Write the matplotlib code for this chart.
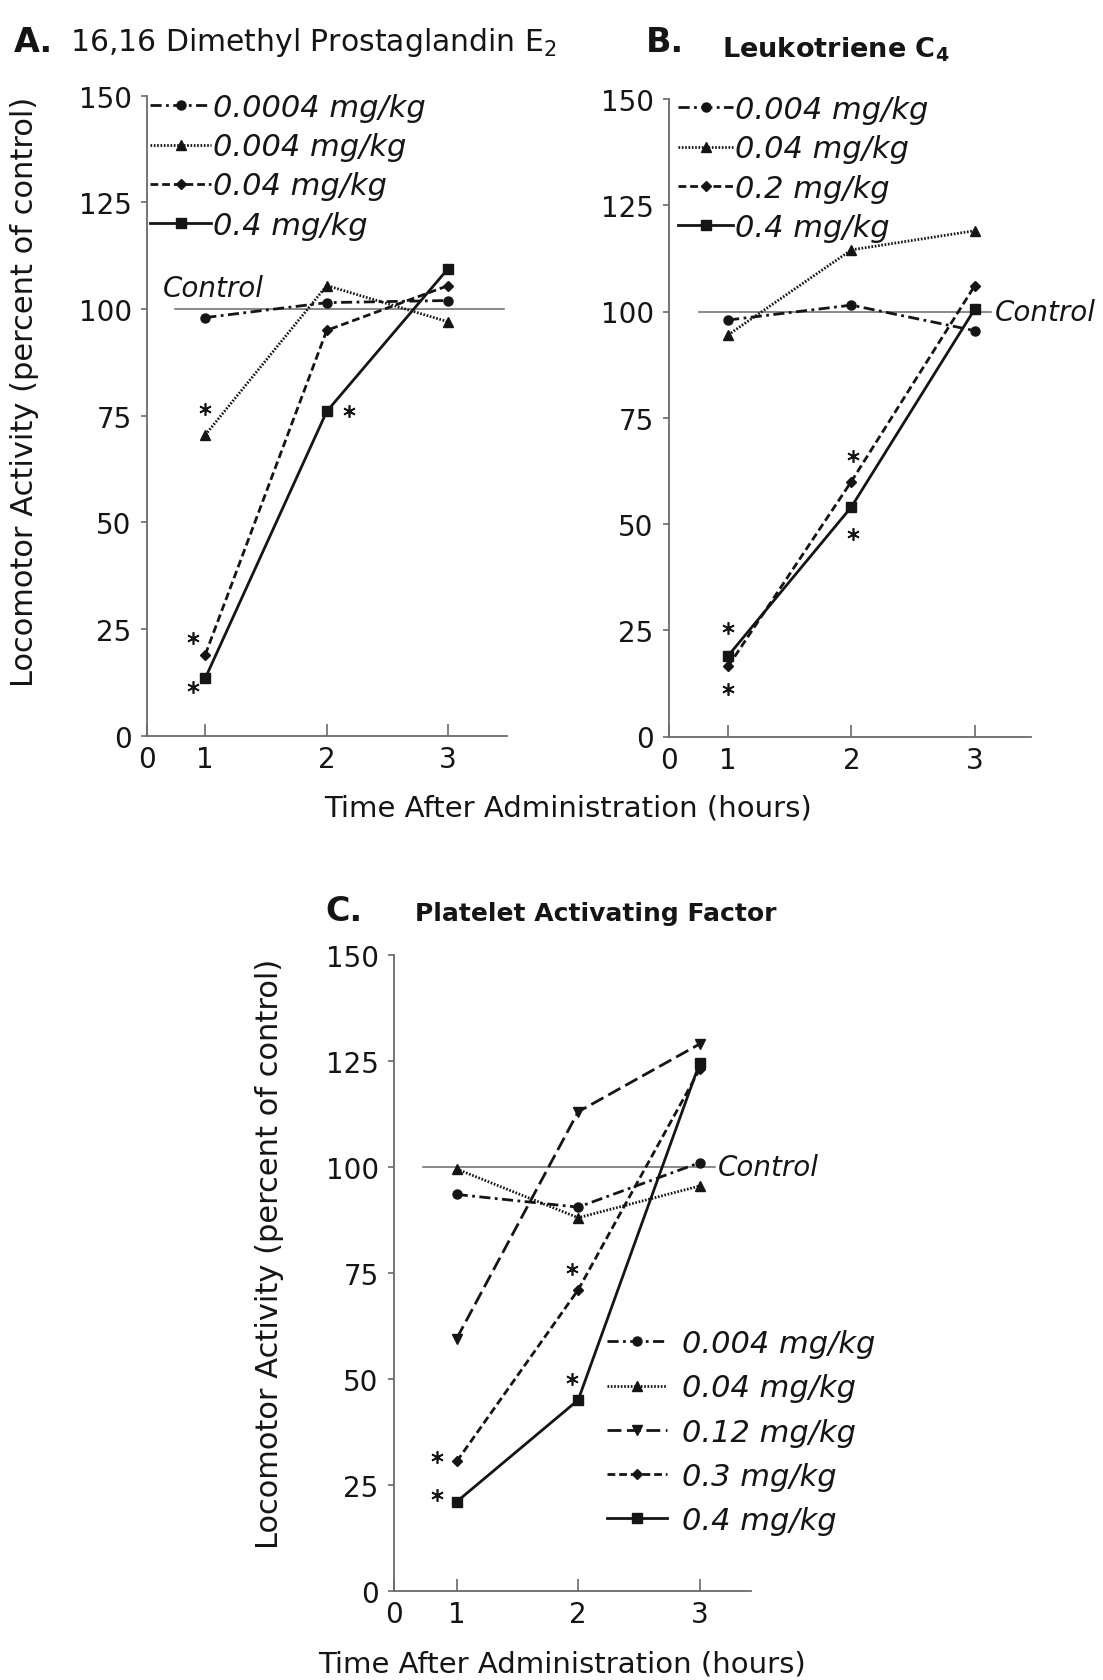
import matplotlib
matplotlib.use('Agg')
import matplotlib.pyplot as plt

plt.rcParams['font.family'] = ['DejaVu Sans']
plt.rcParams['mathtext.fontset'] = 'dejavusans'

hours = [1, 2, 3]
y_ticks = [0, 25, 50, 75, 100, 125, 150]
x_tick_labels = ['0', '1', '2', '3']

# A. 16,16 dimethyl PGE2
a_doses = ['0.0004 mg/kg', '0.004 mg/kg', '0.04 mg/kg', '0.4 mg/kg']
a_values = [
    [98, 101.5, 102],
    [70.5, 105.5, 97],
    [19, 95, 105.5],
    [13.5, 76, 109.5],
]
a_styles = ['dashdot', 'dotted', 'dashed', 'solid']
a_star_x = [1.0, 2.18, 0.9, 0.9]
a_star_y = [76.5, 76, 23, 11.5]

# B. Leukotriene C4
b_doses = ['0.004 mg/kg', '0.04 mg/kg', '0.2 mg/kg', '0.4 mg/kg']
b_values = [
    [98, 101.5, 95.5],
    [94.5, 114.5, 119],
    [16.5, 60, 106],
    [19, 54, 100.5],
]
b_styles = ['dashdot', 'dotted', 'dashed', 'solid']
b_star_x = [1.0, 1.0, 2.01, 2.01]
b_star_y = [25.5, 11.2, 66, 47.6]

# C. Platelet activating factor
c_doses = ['0.004 mg/kg', '0.04 mg/kg', '0.12 mg/kg', '0.3 mg/kg', '0.4 mg/kg']
c_values = [
    [93.5, 90.5, 101],
    [99.5, 88, 95.5],
    [59.5, 113, 129],
    [30.5, 71, 123],
    [21, 45, 124.5],
]
c_styles = ['dashdot', 'dotted', 'longdash', 'dashed', 'solid']
c_star_x = [0.84, 0.84, 1.95, 1.95]
c_star_y = [31.5, 22.5, 76, 50]

control = 100

INK = '#151515'
AXC = '#6a6a6a'

line_styles = {
    'dashdot': dict(ls=(0, (4, 1.6, 1, 1.6)), marker='o', ms=6.5),
    'dotted': dict(ls=(0, (0.6, 0.6)), marker='^', ms=6.5),
    'dashed': dict(ls=(0, (2.8, 1.4)), marker='D', ms=5),
    'longdash': dict(ls=(0, (5, 2)), marker='v', ms=7),
    'solid': dict(ls='-', marker='s', ms=6.5),
}

W, H = 1103, 1681
fig = plt.figure(figsize=(W / 100, H / 100), dpi=100)
fig.patch.set_facecolor('white')


def px_rect(left, right, top, bottom):
    return [left / W, 1 - bottom / H, (right - left) / W, (bottom - top) / H]


def draw_panel(ax, xlim, doses, values, styles, sx, sy, ctrl_span, ctrl_txt,
               leg_anchor, leg_fs, leg_kw):
    for dose, vals, st in zip(doses, values, styles):
        s = line_styles[st]
        ax.plot(hours, vals, linestyle=s['ls'], marker=s['marker'],
                ms=s['ms'], color=INK, lw=2.0, label=dose, clip_on=False)
    ax.plot(sx, sy, linestyle='none', marker=(6, 2, 0), ms=9, mew=1.2,
            color=INK, clip_on=False)
    ax.plot(ctrl_span, [control, control], color=AXC, lw=1.1, zorder=0,
            clip_on=False)
    ax.text(ctrl_txt[0], ctrl_txt[1], 'Control', fontsize=20,
            fontstyle='italic', color=INK, ha='left', va='baseline')

    ax.set_xlim(*xlim)
    ax.set_ylim(0, 150)
    ax.set_xticks([xlim[0]] + hours)
    ax.set_xticklabels(x_tick_labels)
    ax.set_yticks(y_ticks)
    for side in ('top', 'right'):
        ax.spines[side].set_visible(False)
    for side in ('left', 'bottom'):
        ax.spines[side].set_color(AXC)
        ax.spines[side].set_linewidth(1.3)
    ax.tick_params(axis='x', direction='in', length=9, width=1.2, pad=6.5,
                   colors=AXC, labelcolor=INK, labelsize=20)
    ax.tick_params(axis='y', direction='out', length=4, width=1.2, pad=7,
                   colors=AXC, labelcolor=INK, labelsize=20)
    ax.patch.set_alpha(0)

    leg = ax.legend(loc='upper left', bbox_to_anchor=(leg_anchor[0] / W, 1 - leg_anchor[1] / H),
                    bbox_transform=fig.transFigure, frameon=False, numpoints=1,
                    borderpad=0, borderaxespad=0,
                    prop=dict(size=leg_fs, style='italic'), **leg_kw)
    for t in leg.get_texts():
        t.set_color(INK)


axA = fig.add_axes(px_rect(147, 507, 96.7, 736.7))
draw_panel(axA, (0.52, 3.484), a_doses, a_values, a_styles, a_star_x, a_star_y,
           (0.75, 3.46), (0.647, 103.1), (150, 94), 22,
           dict(handlelength=2.0, handletextpad=0.05, labelspacing=0.335))

axB = fig.add_axes(px_rect(669, 1031, 100, 737.5))
draw_panel(axB, (0.52, 3.458), b_doses, b_values, b_styles, b_star_x, b_star_y,
           (0.76, 3.135), (3.163, 98.1), (678, 96), 22,
           dict(handlelength=1.8, handletextpad=0.05, labelspacing=0.34))

axC = fig.add_axes(px_rect(394, 751.3, 956, 1591.7))
draw_panel(axC, (0.484, 3.425), c_doses, c_values, c_styles, c_star_x, c_star_y,
           (0.725, 3.125), (3.153, 98.1), (607, 1330), 22,
           dict(handlelength=1.95, handletextpad=0.5, labelspacing=0.5))

# titles and shared labels
fig.text(14 / W, 1 - 52 / H, 'A.', fontsize=24, fontweight='bold', color=INK, va='baseline')
fig.text(70 / W, 1 - 51 / H, r'16,16 Dimethyl Prostaglandin E$_\mathregular{2}$',
         fontsize=21.5, color=INK, va='baseline')
fig.text(646 / W, 1 - 52 / H, 'B.', fontsize=24, fontweight='bold', color=INK, va='baseline')
fig.text(722 / W, 1 - 58 / H, r'Leukotriene C$_\mathregular{4}$',
         fontsize=19.5, fontweight='bold', color=INK, va='baseline')
fig.text(325 / W, 1 - 921 / H, 'C.', fontsize=24, fontweight='bold', color=INK, va='baseline')
fig.text(415 / W, 1 - 921 / H, 'Platelet Activating Factor',
         fontsize=18, fontweight='bold', color=INK, va='baseline')

ylab = 'Locomotor Activity (percent of control)'
fig.text(25 / W, 1 - 392 / H, ylab, rotation=90, fontsize=22, color=INK,
         ha='center', va='center')
fig.text(270 / W, 1 - 1254 / H, ylab, rotation=90, fontsize=22, color=INK,
         ha='center', va='center')

xlab = 'Time After Administration (hours)'
fig.text(568 / W, 1 - 808 / H, xlab, fontsize=21, color=INK, ha='center', va='center')
fig.text(562 / W, 1 - 1665 / H, xlab, fontsize=21, color=INK, ha='center', va='center')

fig.savefig('out.png', dpi=100, facecolor='white')
